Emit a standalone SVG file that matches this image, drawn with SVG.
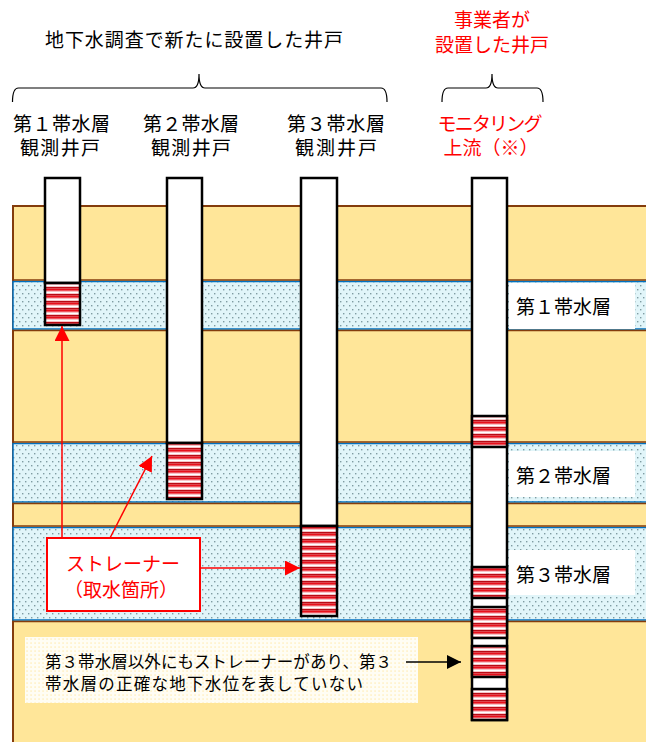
<svg xmlns="http://www.w3.org/2000/svg" width="646" height="742" viewBox="0 0 646 742">
  <style>
    text { font-family: "Noto Sans CJK JP", "Noto Sans CJK SC", sans-serif; }
    .hd { font-size: 19px; fill: #000; }
    .lbl { font-size: 19px; fill: #000; }
    .note { font-size: 16.5px; fill: #000; }
    .red { fill: #ff0000; }
    .brace { fill: none; stroke: #000; stroke-width: 1.2; }
    .tan { fill: #ffe699; }
    .aq { fill: url(#dots); stroke: #0070c0; stroke-width: 1.5; }
    .soil-line { stroke: #843c0c; stroke-width: 1.5; }
    .pipe { fill: #fff; stroke: #000; stroke-width: 2.5; }
    .screen { fill: url(#stripes); stroke: #000; stroke-width: 2.5; }
    .tag { fill: #fff; }
    .ra { stroke: #ff0000; stroke-width: 1.5; fill: none; marker-end: url(#headRed); }
    .ka { stroke: #000; stroke-width: 1.3; fill: none; marker-end: url(#headBlack); }
  </style>
  <defs>
    <!-- dotted fill for water-bearing layers -->
    <pattern id="dots" patternUnits="userSpaceOnUse" width="6" height="8">
      <rect width="6" height="8" fill="#e1f5f9"/>
      <rect x="1" y="1" width="1.4" height="1.4" fill="#7f9ca2"/>
      <rect x="4" y="5" width="1.4" height="1.4" fill="#7f9ca2"/>
    </pattern>
    <!-- striped fill for screened sections -->
    <pattern id="stripes" patternUnits="userSpaceOnUse" width="10" height="7">
      <rect width="10" height="7" fill="#ffffff"/>
      <rect y="0" width="10" height="1.6" fill="#b80a14"/>
      <rect y="1.6" width="10" height="2.2" fill="#e8101c"/>
      <rect y="3.8" width="10" height="1" fill="#f6b4b8"/>
      <rect y="6.2" width="10" height="0.8" fill="#f6b4b8"/>
    </pattern>
    <!-- light checked fill behind the note -->
    <pattern id="checks" patternUnits="userSpaceOnUse" width="4" height="4">
      <rect width="4" height="4" fill="#fff3cf"/>
      <rect width="4" height="2.2" fill="#fffdf4"/>
      <rect width="2.2" height="4" fill="#fffdf4"/>
    </pattern>
    <marker id="headRed" markerUnits="userSpaceOnUse" markerWidth="15" markerHeight="15" viewBox="0 0 10 10" refX="10" refY="5" orient="auto">
      <path d="M0,0 L10,5 L0,10 z" fill="#ff0000"/>
    </marker>
    <marker id="headBlack" markerUnits="userSpaceOnUse" markerWidth="15" markerHeight="14" viewBox="0 0 10 10" refX="10" refY="5" orient="auto">
      <path d="M0,0 L10,5 L0,10 z" fill="#000"/>
    </marker>
  </defs>

  <!-- ground section -->
  <g id="ground">
    <rect class="tan" x="13" y="206" width="640" height="540" stroke="#843c0c" stroke-width="2"/>
    <rect class="aq" x="13" y="281.5" width="640" height="47.5"/>
    <rect class="aq" x="13" y="443.5" width="640" height="58.5"/>
    <rect class="aq" x="13" y="527.5" width="640" height="92.5"/>
    <line class="soil-line" x1="13" y1="280" x2="646" y2="280"/>
    <line class="soil-line" x1="13" y1="330.5" x2="646" y2="330.5"/>
    <line class="soil-line" x1="13" y1="442" x2="646" y2="442"/>
    <line class="soil-line" x1="13" y1="503.5" x2="646" y2="503.5"/>
    <line class="soil-line" x1="13" y1="526" x2="646" y2="526"/>
    <line class="soil-line" x1="13" y1="621.5" x2="646" y2="621.5"/>
  </g>

  <!-- header texts and braces -->
  <g id="header-new">
    <text class="hd" x="45" y="47" textLength="298" lengthAdjust="spacing">地下水調査で新たに設置した井戸</text>
    <path class="brace" d="M12.5,102 Q12.5,88 18.5,88 H193 Q199,88 199,74 Q199,88 205,88 H381 Q387,88 387,102"/>
  </g>
  <g id="header-operator">
    <text class="hd red" x="492" y="27" text-anchor="middle">事業者が</text>
    <text class="hd red" x="492" y="52" text-anchor="middle">設置した井戸</text>
    <path class="brace" d="M442,102 Q442,88 448,88 H486 Q492,88 492,74 Q492,88 498,88 H537 Q543,88 543,102"/>
  </g>

  <!-- wells -->
  <g id="well-1">
    <text class="hd" x="61.5" y="130.5" text-anchor="middle" textLength="97" lengthAdjust="spacing">第１帯水層</text>
    <text class="hd" x="60" y="154.5" text-anchor="middle" textLength="80" lengthAdjust="spacing">観測井戸</text>
    <rect class="pipe" x="45" y="178" width="35" height="105"/>
    <rect class="screen" x="45" y="283" width="35" height="42"/>
  </g>
  <g id="well-2">
    <text class="hd" x="191" y="130.5" text-anchor="middle" textLength="96" lengthAdjust="spacing">第２帯水層</text>
    <text class="hd" x="191" y="154.5" text-anchor="middle" textLength="80" lengthAdjust="spacing">観測井戸</text>
    <rect class="pipe" x="167" y="178" width="35" height="265"/>
    <rect class="screen" x="167" y="443" width="35" height="56"/>
  </g>
  <g id="well-3">
    <text class="hd" x="336" y="130.5" text-anchor="middle" textLength="98" lengthAdjust="spacing">第３帯水層</text>
    <text class="hd" x="336" y="154.5" text-anchor="middle" textLength="82" lengthAdjust="spacing">観測井戸</text>
    <rect class="pipe" x="301" y="178" width="36" height="348"/>
    <rect class="screen" x="301" y="526" width="36" height="90"/>
  </g>
  <g id="well-4">
    <text class="hd red" x="490" y="130.5" text-anchor="middle" textLength="105" lengthAdjust="spacing">モニタリング</text>
    <text class="hd red" x="491" y="155" text-anchor="middle">上流（※）</text>
    <rect class="pipe" x="472" y="178" width="35" height="542"/>
    <rect class="screen" x="472" y="416" width="35" height="31"/>
    <rect class="screen" x="472" y="567" width="35" height="31"/>
    <rect class="screen" x="472" y="607" width="35" height="31"/>
    <rect class="screen" x="472" y="646" width="35" height="31"/>
    <rect class="screen" x="472" y="689" width="35" height="31"/>
  </g>

  <!-- aquifer names -->
  <g id="aquifer-1-label">
    <rect class="tag" x="509" y="283" width="126" height="46"/>
    <text class="lbl" x="516" y="314">第１帯水層</text>
  </g>
  <g id="aquifer-2-label">
    <rect class="tag" x="509" y="451" width="126" height="46"/>
    <text class="lbl" x="516" y="483">第２帯水層</text>
  </g>
  <g id="aquifer-3-label">
    <rect class="tag" x="509" y="550" width="126" height="45"/>
    <text class="lbl" x="516" y="582">第３帯水層</text>
  </g>

  <!-- strainer callout -->
  <g id="strainer-label">
    <rect x="47" y="538" width="153" height="73" fill="#fff" stroke="#ff0000" stroke-width="2"/>
    <text class="lbl red" x="123" y="571" text-anchor="middle">ストレーナー</text>
    <text class="lbl red" x="121" y="597" text-anchor="middle">（取水箇所）</text>
  </g>

  <!-- note -->
  <g id="note">
    <rect x="25" y="637" width="393" height="66" fill="url(#checks)"/>
    <text class="note" x="45" y="668" textLength="347" lengthAdjust="spacing">第３帯水層以外にもストレーナーがあり、第３</text>
    <text class="note" x="45" y="689.5" textLength="318" lengthAdjust="spacing">帯水層の正確な地下水位を表していない</text>
  </g>

  <!-- connectors -->
  <g id="connectors">
    <line class="ra" x1="62" y1="538" x2="62" y2="326"/>
    <line class="ra" x1="110" y1="538" x2="152" y2="456"/>
    <line class="ra" x1="200" y1="568" x2="300" y2="568"/>
    <line class="ka" x1="406" y1="662" x2="461" y2="662"/>
  </g>
</svg>
